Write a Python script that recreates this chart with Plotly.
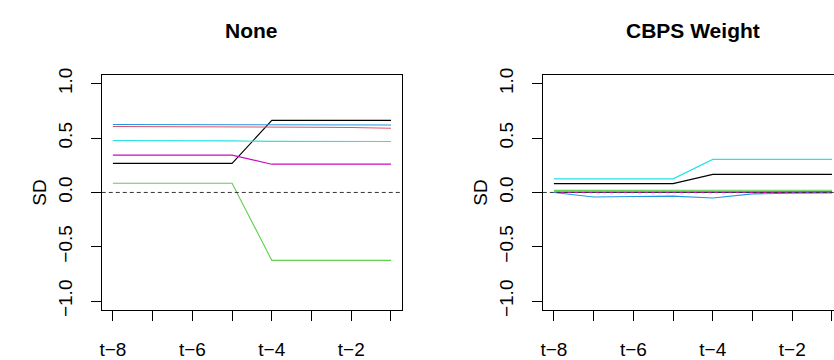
import plotly.graph_objects as go

# Pre-treatment lags shown on the x axis
lags = [1, 2, 3, 4, 5, 6, 7, 8]
lag_labels = ["t\u22128", "", "t\u22126", "", "t\u22124", "", "t\u22122", ""]

# Standardized differences per covariate, unweighted
none_black = [0.267, 0.267, 0.267, 0.267, 0.663, 0.663, 0.663, 0.663]
none_red = [0.606, 0.606, 0.606, 0.606, 0.600, 0.600, 0.598, 0.590]
none_green = [0.085, 0.085, 0.085, 0.085, -0.625, -0.625, -0.625, -0.625]
none_blue = [0.625, 0.625, 0.625, 0.624, 0.620, 0.620, 0.620, 0.620]
none_cyan = [0.478, 0.478, 0.476, 0.474, 0.470, 0.470, 0.470, 0.469]
none_magenta = [0.343, 0.343, 0.343, 0.343, 0.260, 0.260, 0.260, 0.260]

# Standardized differences per covariate, CBPS weighted
cbps_black = [0.081, 0.081, 0.081, 0.081, 0.166, 0.166, 0.166, 0.166]
cbps_red = [0.004, 0.004, 0.004, 0.004, 0.006, 0.007, 0.007, 0.007]
cbps_green = [0.019, 0.019, 0.019, 0.019, 0.019, 0.019, 0.019, 0.020]
cbps_blue = [0.000, -0.042, -0.037, -0.034, -0.051, -0.013, -0.007, -0.005]
cbps_cyan = [0.125, 0.125, 0.125, 0.125, 0.304, 0.304, 0.304, 0.304]
cbps_magenta = [0.001, 0.001, 0.001, 0.001, 0.001, 0.001, 0.001, 0.001]

palette = ["#000000", "#DF536B", "#61D04F", "#2297E6", "#28E2E5", "#CD0BBC"]
names = ["cov1", "cov2", "cov3", "cov4", "cov5", "cov6"]

panels = [
    ("None", [none_black, none_red, none_green, none_blue, none_cyan, none_magenta]),
    ("CBPS Weight", [cbps_black, cbps_red, cbps_green, cbps_blue, cbps_cyan, cbps_magenta]),
]

W, H = 884, 360
FONT = "Liberation Sans, Arial, Helvetica, sans-serif"
box_left = [100, 542]
box_w = 301
box_top, box_bottom = 71, 316

fig = go.Figure()
ydom = [1 - box_bottom / H, 1 - box_top / H]

for i, (title, series) in enumerate(panels):
    xa = "x" if i == 0 else f"x{i + 1}"
    ya = "y" if i == 0 else f"y{i + 1}"
    draw_order = [0, 1, 2, 5, 3, 4] if i == 1 else range(6)
    for k in draw_order:
        fig.add_trace(go.Scatter(
            x=lags, y=series[k], mode="lines", name=names[k],
            line=dict(color=palette[k], width=1.1),
            xaxis=xa, yaxis=ya, showlegend=False, hoverinfo="skip",
        ))
    # zero reference line across the plotting region
    fig.add_trace(go.Scatter(
        x=[0.72, 8.28], y=[0, 0], mode="lines",
        line=dict(color="#333333", width=1, dash="4px,3px"),
        xaxis=xa, yaxis=ya, showlegend=False, hoverinfo="skip",
    ))
    xd = [box_left[i] / W, (box_left[i] + box_w) / W]
    axis_common = dict(
        showline=True, mirror=True, linecolor="black", linewidth=1,
        ticks="outside", ticklen=10, tickwidth=1, tickcolor="black",
        showgrid=False, zeroline=False,
        tickfont=dict(family=FONT, size=19, color="black"),
    )
    fig.layout[("xaxis" if i == 0 else f"xaxis{i + 1}")] = dict(
        domain=xd, range=[0.72, 8.28], tickvals=lags, ticktext=lag_labels,
        anchor=ya, ticklabelstandoff=12, **axis_common,
    )
    fig.layout[("yaxis" if i == 0 else f"yaxis{i + 1}")] = dict(
        domain=ydom, range=[-1.08, 1.08], tickvals=[-1, -0.5, 0, 0.5, 1],
        ticktext=["\u22121.0", "\u22120.5", "0.0", "0.5", "1.0"],
        tickangle=-90, anchor=xa, ticklabelstandoff=11,
        title=dict(text="SD", font=dict(family=FONT, size=19, color="black"),
                   standoff=3),
        **axis_common,
    )
    fig.add_annotation(
        text=f"<b>{title}</b>", x=(xd[0] + xd[1]) / 2, y=1 - 25 / H,
        xref="paper", yref="paper", showarrow=False,
        xanchor="center", yanchor="middle",
        font=dict(family=FONT, size=21, color="black"),
    )

fig.update_layout(
    width=W, height=H, margin=dict(l=0, r=0, t=0, b=0),
    paper_bgcolor="white", plot_bgcolor="white",
)

fig.write_html(
    "out.html",
    post_script="document.documentElement.style.overflow='hidden';"
                "document.body.style.overflow='hidden';",
)
